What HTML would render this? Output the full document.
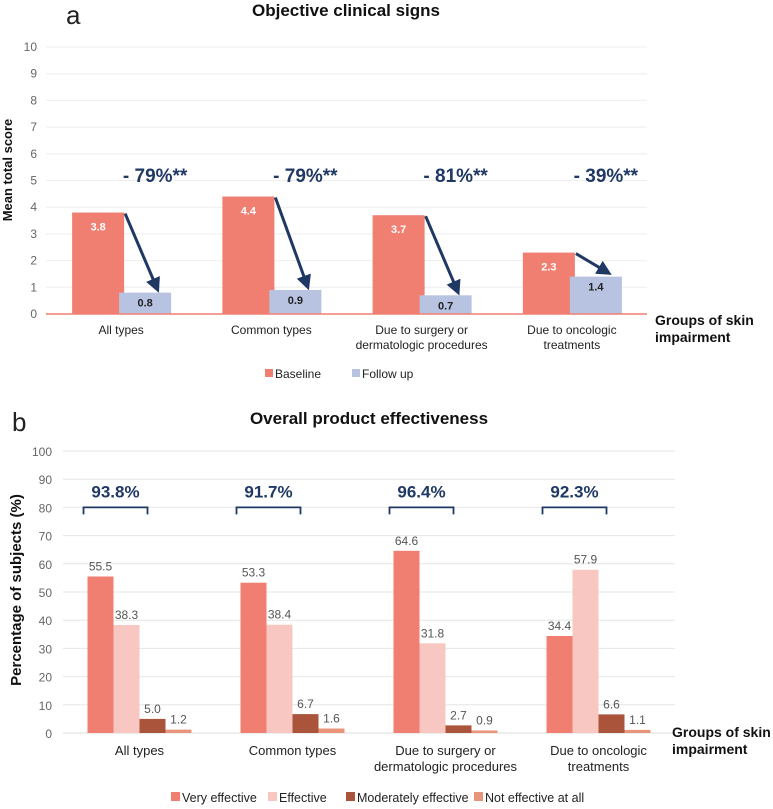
<!DOCTYPE html>
<html><head><meta charset="utf-8"><style>
body{margin:0;background:#fff;}
svg{display:block;font-family:"Liberation Sans",Arial,sans-serif;}
</style></head><body>
<svg id="s" width="773" height="809" viewBox="0 0 773 809"></svg>
<script>
const catsA = ["All types","Common types","Due to surgery or|dermatologic procedures","Due to oncologic|treatments"];
const baselineVals = [3.8,4.4,3.7,2.3];
const followVals = [0.8,0.9,0.7,1.4];
const changeLabels = ["- 79%**","- 79%**","- 81%**","- 39%**"];
const ticksA = [0,1,2,3,4,5,6,7,8,9,10];
const veryVals = [55.5,53.3,64.6,34.4];
const effVals = [38.3,38.4,31.8,57.9];
const modVals = [5.0,6.7,2.7,6.6];
const notVals = [1.2,1.6,0.9,1.1];
const totalLabels = ["93.8%","91.7%","96.4%","92.3%"];
const ticksB = [0,10,20,30,40,50,60,70,80,90,100];

const svg=document.getElementById('s');
const NS='http://www.w3.org/2000/svg';
function mk(tag,attrs,parent,txt){const e=document.createElementNS(NS,tag);for(const k in attrs)e.setAttribute(k,attrs[k]);if(txt!==undefined)e.textContent=txt;(parent||svg).appendChild(e);return e;}
const navy='#1F3864';
const defs=mk('defs',{});
const m=mk('marker',{id:'ah',markerWidth:'5',markerHeight:'5',refX:'3.5',refY:'2.5',orient:'auto',markerUnits:'strokeWidth'},defs);
mk('path',{d:'M0,0 L5,2.5 L0,5 z',fill:navy},m);

// ===== Chart A =====
const gA=mk('g',{});
const aL=46,aR=647,aY0=314,aY10=47;
const yA=v=>aY0-(v/10)*(aY0-aY10);
const bwA=(aR-aL)/catsA.length;
const cxA=i=>aL+bwA*(i+0.5);
let t=mk('text',{x:66,y:24,'font-size':'26',fill:'#222'},gA,'a');
t=mk('text',{x:346,y:16,'font-size':'17','font-weight':'bold','text-anchor':'middle',fill:'#111'},gA,'Objective clinical signs');
ticksA.forEach(v=>{
  if(v>0){const l=mk('line',{x1:aL,x2:aR,y1:yA(v),y2:yA(v),stroke:'#eeeeee','stroke-width':1},gA);}
  const tx=mk('text',{x:37,y:yA(v)+4,'font-size':'12','text-anchor':'end',fill:'#666'},gA,String(v));
});
t=mk('text',{x:0,y:0,'font-size':'13','font-weight':'bold','text-anchor':'middle',fill:'#111',transform:'translate(12,170) rotate(-90)'},gA,'Mean total score');
catsA.forEach((c,i)=>{
  const cx=cxA(i);
  const b=baselineVals[i],f=followVals[i];
  let r=mk('rect',{x:cx-49,y:yA(b),width:52,height:aY0-yA(b),fill:'#F07F72'},gA);
  let r2=mk('rect',{x:cx-2,y:yA(f),width:52,height:aY0-yA(f),fill:'#B7C3E1'},gA);
  let lt=mk('text',{x:cx-23,y:yA(b)+18,'font-size':'11','font-weight':'bold','text-anchor':'middle',fill:'#fff'},gA,b.toFixed(1));
  let ft=mk('text',{x:cx+24,y:yA(f)+14,'font-size':'11','font-weight':'bold','text-anchor':'middle',fill:'#222'},gA,f.toFixed(1));
  let ar=mk('line',{x1:cx+4,y1:yA(b)+1,x2:cx+36,y2:yA(f)-4,stroke:navy,'stroke-width':3,'marker-end':'url(#ah)'},gA);
  let ct=mk('text',{x:cx+34,y:182,'font-size':'19','font-weight':'bold','text-anchor':'middle',fill:navy},gA,changeLabels[i]);
  c.split('|').forEach((ln,k)=>{const x=mk('text',{x:cx,y:334+k*15,'font-size':'12','text-anchor':'middle',fill:'#222'},gA,ln);});
});
let ax=mk('line',{x1:aL,x2:aR,y1:aY0,y2:aY0,stroke:'#F07F72','stroke-width':1.5},gA);
t=mk('text',{x:655,y:325,'font-size':'14','font-weight':'bold',fill:'#111'},gA,'Groups of skin');
mk('text',{x:655,y:342,'font-size':'14','font-weight':'bold',fill:'#111'},gA,'impairment');
let lg=mk('g',{},gA);
mk('rect',{x:265,y:369,width:8,height:8,fill:'#F07F72'},lg);
mk('text',{x:275,y:378,'font-size':'12',fill:'#222'},lg,'Baseline');
mk('rect',{x:352,y:369,width:8,height:8,fill:'#B7C3E1'},lg);
mk('text',{x:362,y:378,'font-size':'12',fill:'#222'},lg,'Follow up');

// ===== Chart B =====
const gB=mk('g',{});
const bL=63,bR=675,bY0=733,bY100=451;
const yB=v=>bY0-(v/100)*(bY0-bY100);
const bwB=(bR-bL)/catsA.length;
const cxB=i=>bL+bwB*(i+0.5);
t=mk('text',{x:12,y:431,'font-size':'26',fill:'#222'},gB,'b');
t=mk('text',{x:369,y:424,'font-size':'17','font-weight':'bold','text-anchor':'middle',fill:'#111'},gB,'Overall product effectiveness');
ticksB.forEach(v=>{
  const l=mk('line',{x1:bL,x2:bR,y1:yB(v),y2:yB(v),stroke:v===0?'#dddddd':'#e6e6e6','stroke-width':1},gB);
  const tx=mk('text',{x:52,y:yB(v)+5,'font-size':'12','text-anchor':'end',fill:'#666'},gB,String(v));
});
t=mk('text',{x:0,y:0,'font-size':'15','font-weight':'bold','text-anchor':'middle',fill:'#111',transform:'translate(21,590) rotate(-90)'},gB,'Percentage of subjects (%)');
const series=[[veryVals,'#F07F72','bar-very-effective'],[effVals,'#F8C7C1','bar-effective'],[modVals,'#A9543B','bar-moderately-effective'],[notVals,'#E8957B','bar-not-effective']];
const sw=26;
catsA.forEach((c,i)=>{
  const cx=cxB(i);
  series.forEach((s,k)=>{
    const v=s[0][i];const x=cx-52+k*sw;
    const r=mk('rect',{x:x,y:yB(v),width:sw,height:bY0-yB(v),fill:s[1]},gB);
    const vt=mk('text',{x:x+sw/2,y:yB(v)-6,'font-size':'12','text-anchor':'middle',fill:'#555'},gB,v.toFixed(1));
  });
  const br=mk('path',{d:`M${cx-56},${yB(80)+7} V${yB(80)} H${cx+8} V${yB(80)+7}`,fill:'none',stroke:navy,'stroke-width':1.8},gB);
  const tl=mk('text',{x:cx-24,y:yB(80)-10,'font-size':'17','font-weight':'bold','text-anchor':'middle',fill:navy},gB,totalLabels[i]);
  c.split('|').forEach((ln,k)=>{const x=mk('text',{x:cx,y:755+k*16,'font-size':'13','text-anchor':'middle',fill:'#222'},gB,ln);});
});
t=mk('text',{x:672,y:737,'font-size':'14','font-weight':'bold',fill:'#111'},gB,'Groups of skin');
mk('text',{x:672,y:754,'font-size':'14','font-weight':'bold',fill:'#111'},gB,'impairment');
let lb=mk('g',{},gB);
const legItems=[['Very effective','#F07F72',171],['Effective','#F8C7C1',268],['Moderately effective','#A9543B',346],['Not effective at all','#E8957B',474]];
legItems.forEach(li=>{mk('rect',{x:li[2],y:792,width:9,height:9,fill:li[1]},lb);mk('text',{x:li[2]+11,y:802,'font-size':'12.5',fill:'#222'},lb,li[0]);});
</script>
</body></html>
